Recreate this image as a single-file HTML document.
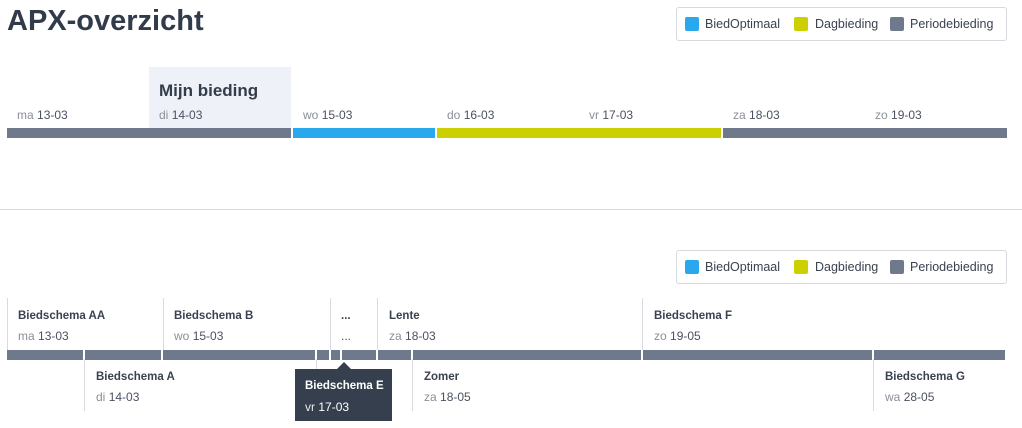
<!DOCTYPE html>
<html><head><meta charset="utf-8"><style>
*{margin:0;padding:0;box-sizing:border-box}
body{width:1022px;height:428px;background:#fff;font-family:"Liberation Sans",sans-serif;position:relative;overflow:hidden;color:#333c4b}
.a{position:absolute}
.lbl{position:absolute;font-size:12px;color:#8a8f98;white-space:nowrap}
.lbl b{color:#4a5160;font-weight:normal}
.bar{position:absolute;height:10px;background:#6e7a8c}
.v{position:absolute;width:1px;background:#d8dbe0}
.t{position:absolute;font-size:11.5px;font-weight:bold;color:#3a4250;white-space:nowrap}
.leg{position:absolute;left:676px;width:331px;height:34px;border:1px solid #d6d9de;border-radius:3px;font-size:12.5px;color:#3a4250}
.leg span.s{position:absolute;top:9px;width:14px;height:14px;border-radius:2px}
.leg span.l{position:absolute;top:9px}
</style></head><body>
<div class="a" style="left:7px;top:5px;font-size:29px;font-weight:bold;color:#323b4a">APX-overzicht</div>
<div class="leg" style="top:7px">
<span class="s" style="left:8px;background:#2aa8ee"></span><span class="l" style="left:28px">BiedOptimaal</span>
<span class="s" style="left:117px;background:#cdd000"></span><span class="l" style="left:138px">Dagbieding</span>
<span class="s" style="left:213px;background:#6e7a8c"></span><span class="l" style="left:233px">Periodebieding</span>
</div>
<div class="a" style="left:149px;top:67px;width:142px;height:61px;background:#eef1f7"></div>
<div class="a" style="left:159px;top:81px;font-size:17px;font-weight:bold;color:#333c4b">Mijn bieding</div>
<div class="lbl" style="left:17px;top:108px">ma <b>13-03</b></div>
<div class="lbl" style="left:159px;top:108px">di <b>14-03</b></div>
<div class="lbl" style="left:303px;top:108px">wo <b>15-03</b></div>
<div class="lbl" style="left:447px;top:108px">do <b>16-03</b></div>
<div class="lbl" style="left:589px;top:108px">vr <b>17-03</b></div>
<div class="lbl" style="left:733px;top:108px">za <b>18-03</b></div>
<div class="lbl" style="left:875px;top:108px">zo <b>19-03</b></div>
<div class="bar" style="left:7px;top:128px;width:284px"></div>
<div class="bar" style="left:293px;top:128px;width:142px;background:#2aa8ee"></div>
<div class="bar" style="left:437px;top:128px;width:284px;background:#cdd000"></div>
<div class="bar" style="left:723px;top:128px;width:284px"></div>
<div class="a" style="left:0;top:209px;width:1022px;height:1px;background:#d8dbe0"></div>
<div class="leg" style="top:250px">
<span class="s" style="left:8px;background:#2aa8ee"></span><span class="l" style="left:28px">BiedOptimaal</span>
<span class="s" style="left:117px;background:#cdd000"></span><span class="l" style="left:138px">Dagbieding</span>
<span class="s" style="left:213px;background:#6e7a8c"></span><span class="l" style="left:233px">Periodebieding</span>
</div>
<div class="v" style="left:7px;top:298px;height:52px"></div>
<div class="v" style="left:163px;top:298px;height:52px"></div>
<div class="v" style="left:330px;top:298px;height:52px"></div>
<div class="v" style="left:377px;top:298px;height:52px"></div>
<div class="v" style="left:642px;top:298px;height:52px"></div>
<div class="v" style="left:84px;top:359px;height:52px"></div>
<div class="v" style="left:316px;top:359px;height:20px"></div>
<div class="v" style="left:412px;top:359px;height:52px"></div>
<div class="v" style="left:873px;top:359px;height:52px"></div>
<div class="bar" style="left:7px;top:350px;width:76px"></div>
<div class="bar" style="left:85px;top:350px;width:76px"></div>
<div class="bar" style="left:163px;top:350px;width:152px"></div>
<div class="bar" style="left:317px;top:350px;width:12px"></div>
<div class="bar" style="left:331px;top:350px;width:9px"></div>
<div class="bar" style="left:342px;top:350px;width:34px"></div>
<div class="bar" style="left:378px;top:350px;width:33px"></div>
<div class="bar" style="left:413px;top:350px;width:228px"></div>
<div class="bar" style="left:643px;top:350px;width:229px"></div>
<div class="bar" style="left:874px;top:350px;width:131px"></div>
<div class="t" style="left:18px;top:310px">Biedschema AA</div><div class="lbl" style="left:18px;top:329px">ma <b>13-03</b></div>
<div class="t" style="left:174px;top:310px">Biedschema B</div><div class="lbl" style="left:174px;top:329px">wo <b>15-03</b></div>
<div class="t" style="left:341px;top:310px">...</div><div class="lbl" style="left:341px;top:329px"><b>...</b></div>
<div class="t" style="left:389px;top:310px">Lente</div><div class="lbl" style="left:389px;top:329px">za <b>18-03</b></div>
<div class="t" style="left:654px;top:310px">Biedschema F</div><div class="lbl" style="left:654px;top:329px">zo <b>19-05</b></div>
<div class="t" style="left:96px;top:371px">Biedschema A</div><div class="lbl" style="left:96px;top:390px">di <b>14-03</b></div>
<div class="t" style="left:424px;top:371px">Zomer</div><div class="lbl" style="left:424px;top:390px">za <b>18-05</b></div>
<div class="t" style="left:885px;top:371px">Biedschema G</div><div class="lbl" style="left:885px;top:390px">wa <b>28-05</b></div>
<div class="a" style="left:295px;top:369px;width:97px;height:52px;background:#363f4e"></div>
<div class="a" style="left:337px;top:362px;width:0;height:0;border-left:7px solid transparent;border-right:7px solid transparent;border-bottom:7px solid #363f4e"></div>
<div class="t" style="left:305px;top:380px;color:#fff">Biedschema E</div>
<div class="lbl" style="left:305px;top:400px;color:#d0d4da"><b style="color:#e8eaee">vr</b> <b style="color:#fff">17-03</b></div>
</body></html>
